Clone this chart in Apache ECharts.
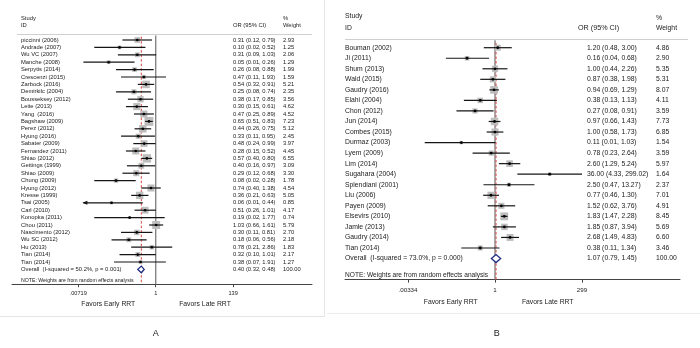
<!DOCTYPE html>
<html><head><meta charset="utf-8">
<script src="https://cdn.jsdelivr.net/npm/echarts@6/dist/echarts.min.js"></script>
<style>html,body{margin:0;padding:0;background:#fff}#c{width:700px;height:348px}</style>
</head><body><div id="c"></div>
<script>
// ---------- Panel A data ----------
const studiesA = ['piccinni (2006)','Andrade (2007)','Wu VC (2007)','Manche (2008)','Serpytis (2014)','Crescenzi (2015)','Zarbock (2016)','Demirkilc (2004)','Bousseksey (2012)','Leite (2013)','Yang  (2016)','Bagshaw (2009)','Perez (2012)','Hyung (2016)','Sabater (2009)','Fernandez (2011)','Shiao (2012)','Gettings (1999)','Shiao (2009)','Chung (2009)','Hyung (2012)','Kresse (1999)','Tsai (2005)','Carl (2010)','Konopka (2011)','Chou (2011)','Nascimento (2012)','Wu SC (2012)','Hu (2013)','Tian (2014)','Tian (2014)'];
const orA = [0.31,0.10,0.31,0.05,0.26,0.47,0.54,0.25,0.38,0.30,0.47,0.65,0.44,0.33,0.48,0.28,0.57,0.40,0.29,0.08,0.74,0.36,0.06,0.51,0.19,1.03,0.30,0.18,0.78,0.32,0.38];
const loA = [0.12,0.02,0.09,0.01,0.08,0.11,0.32,0.08,0.17,0.15,0.25,0.51,0.26,0.11,0.24,0.15,0.40,0.16,0.12,0.02,0.40,0.21,0.01,0.26,0.02,0.66,0.11,0.06,0.21,0.10,0.07];
const hiA = [0.79,0.52,1.03,0.26,0.88,1.93,0.91,0.74,0.85,0.61,0.89,0.83,0.75,0.95,0.99,0.52,0.80,0.97,0.68,0.28,1.38,0.63,0.44,1.01,1.77,1.61,0.81,0.56,2.86,1.01,1.91];
const weightA = [2.93,1.25,2.06,1.29,1.99,1.59,5.21,2.35,3.56,4.62,4.52,7.23,5.12,2.45,3.97,4.45,6.55,3.09,3.30,1.78,4.54,5.05,0.85,4.17,0.74,5.79,2.70,2.18,1.83,2.17,1.27];
const overallA = [0.40, 0.32, 0.48];
const overallLabelA = 'Overall  (I-squared = 50.2%, p = 0.001)';
const arrowLowA = ['Tsai (2005)'];
const tickValsA = [0.00719, 1, 139];
const tickLabelsA = ['.00719', '1', '139'];

// ---------- Panel B data ----------
const studiesB = ['Bouman (2002)','Ji (2011)','Shum (2013)','Wald (2015)','Gaudry (2016)','Elahi (2004)','Chon (2012)','Jun (2014)','Combes (2015)','Durmaz (2003)','Lyem (2009)','Lim (2014)','Sugahara (2004)','Splendiani (2001)','Liu (2006)','Payen (2009)','Elsevirs (2010)','Jamle (2013)','Gaudry (2014)','Tian (2014)'];
const orB = [1.20,0.16,1.00,0.87,0.94,0.38,0.27,0.97,1.00,0.11,0.78,2.60,36.00,2.50,0.77,1.52,1.83,1.85,2.68,0.38];
const loB = [0.48,0.04,0.44,0.38,0.69,0.13,0.08,0.66,0.58,0.01,0.23,1.29,4.33,0.47,0.46,0.62,1.47,0.87,1.49,0.11];
const hiB = [3.00,0.68,2.26,1.98,1.29,1.13,0.91,1.43,1.73,1.03,2.64,5.24,299.02,13.27,1.30,3.76,2.28,3.94,4.83,1.34];
const weightB = [4.86,2.90,5.35,5.31,8.07,4.11,3.59,7.73,6.85,1.54,3.59,5.97,1.64,2.37,7.01,4.91,8.45,5.69,6.60,3.46];
const overallB = [1.07, 0.79, 1.45];
const overallLabelB = 'Overall  (I-squared = 73.0%, p = 0.000)';
const arrowLowB = [];
const tickValsB = [0.00334, 1, 299];
const tickLabelsB = ['.00334', '1', '299'];

const noteText = 'NOTE: Weights are from random effects analysis';
const FONT = '"Liberation Sans", Arial, sans-serif';
const TXT = '#222';

const chart = echarts.init(document.getElementById('c'), null, {renderer: 'canvas'});

function fmt(v){ return v.toFixed(2); }

function panel(gi, studies, or, lo, hi, wt, ov, ovLabel, arrowLow, cfg) {
  const n = studies.length;
  const rowData = studies.map((s, i) => [Math.log(or[i]), i, Math.log(lo[i]), Math.log(hi[i]), wt[i], i]);
  const series = [];
  series.push({
    type: 'custom', xAxisIndex: gi, yAxisIndex: gi, silent: true, z: 1,
    data: [[0, cfg.lineTop, cfg.rowMax, 0], [Math.log(ov[0]), cfg.dashTop, cfg.rowMax, 1]],
    renderItem: (p, api) => {
      const a = api.coord([api.value(0), api.value(1)]);
      const b = api.coord([api.value(0), api.value(2)]);
      const dashed = api.value(3) === 1;
      return {type: 'line', shape: {x1: a[0], y1: a[1], x2: b[0], y2: b[1]},
        style: dashed ? {stroke: '#d9443f', lineWidth: 1, lineDash: [2.5, 2]} : {stroke: '#858585', lineWidth: 1.4}};
    }
  });
  series.push({
    type: 'custom', xAxisIndex: gi, yAxisIndex: gi, silent: true, z: 3,
    data: rowData,
    renderItem: (p, api) => {
      const row = api.value(1), idx = api.value(5);
      const c = api.coord([api.value(0), row]);
      const l = api.coord([api.value(2), row]);
      const h = api.coord([api.value(3), row]);
      const s = cfg.boxK * Math.sqrt(api.value(4));
      const ch = [
        {type: 'rect', shape: {x: c[0] - s / 2, y: c[1] - s / 2, width: s, height: s}, style: {fill: '#bdbdbd'}, z2: 1},
        {type: 'line', shape: {x1: l[0], y1: l[1], x2: h[0], y2: h[1]}, style: {stroke: '#151515', lineWidth: cfg.ciW}, z2: 2},
        {type: 'circle', shape: {cx: c[0], cy: c[1], r: cfg.dotR}, style: {fill: '#000'}, z2: 3},
        {type: 'text', x: cfg.nameX, y: c[1], style: {text: studies[idx], font: cfg.font, fill: TXT, align: 'left', verticalAlign: 'middle', textAlign: 'left', textVerticalAlign: 'middle'}},
        {type: 'text', x: cfg.orX, y: c[1], style: {text: fmt(or[idx]) + ' (' + fmt(lo[idx]) + ', ' + fmt(hi[idx]) + ')', font: cfg.font, fill: TXT, align: 'left', verticalAlign: 'middle', textAlign: 'left', textVerticalAlign: 'middle'}},
        {type: 'text', x: cfg.wX, y: c[1], style: {text: fmt(wt[idx]), font: cfg.font, fill: TXT, align: 'left', verticalAlign: 'middle', textAlign: 'left', textVerticalAlign: 'middle'}}
      ];
      if (arrowLow.indexOf(studies[idx]) >= 0) {
        ch.push({type: 'polygon', shape: {points: [[l[0] - 1, l[1]], [l[0] + 4, l[1] - 2], [l[0] + 4, l[1] + 2]]}, style: {fill: '#151515'}, z2: 3});
      }
      return {type: 'group', children: ch};
    }
  });
  series.push({
    type: 'custom', xAxisIndex: gi, yAxisIndex: gi, silent: true, z: 4,
    data: [[Math.log(ov[0]), n, Math.log(ov[1]), Math.log(ov[2])]],
    renderItem: (p, api) => {
      const row = api.value(1);
      const c = api.coord([api.value(0), row]);
      const l = api.coord([api.value(2), row]);
      const h = api.coord([api.value(3), row]);
      const hh = cfg.diaH;
      const noteY = api.coord([0, cfg.noteRow])[1];
      return {type: 'group', children: [
        {type: 'polygon', shape: {points: [[l[0], l[1]], [c[0], c[1] - hh], [h[0], h[1]], [c[0], c[1] + hh]]}, style: {fill: '#fff', stroke: '#1f2a80', lineWidth: 1.3}},
        {type: 'text', x: cfg.nameX, y: c[1], style: {text: ovLabel, font: cfg.font, fill: TXT, align: 'left', verticalAlign: 'middle', textAlign: 'left', textVerticalAlign: 'middle'}},
        {type: 'text', x: cfg.orX, y: c[1], style: {text: fmt(ov[0]) + ' (' + fmt(ov[1]) + ', ' + fmt(ov[2]) + ')', font: cfg.font, fill: TXT, align: 'left', verticalAlign: 'middle', textAlign: 'left', textVerticalAlign: 'middle'}},
        {type: 'text', x: cfg.wX, y: c[1], style: {text: '100.00', font: cfg.font, fill: TXT, align: 'left', verticalAlign: 'middle', textAlign: 'left', textVerticalAlign: 'middle'}},
        {type: 'text', x: cfg.nameX, y: noteY, style: {text: noteText, font: cfg.noteFont, fill: TXT, align: 'left', verticalAlign: 'middle', textAlign: 'left', textVerticalAlign: 'middle'}}
      ]};
    }
  });
  return series;
}

const cfgA = {nameX: 21, orX: 233, wX: 283, font: '5.8px ' + FONT, noteFont: '5.2px ' + FONT, boxK: 3.3, dotR: 1.3, ciW: 1.2, diaH: 3.3, lineTop: -0.6, dashTop: -0.45, rowMax: 33, noteRow: 32.55};
const cfgB = {nameX: 345, orX: 587, wX: 656, font: '6.8px ' + FONT, noteFont: '6.6px ' + FONT, boxK: 2.7, dotR: 1.4, ciW: 1.2, diaH: 4, lineTop: -0.7, dashTop: -0.45, rowMax: 22, noteRow: 21.55};

function xAxisCfg(gi, minV, maxV, tv, tl, fs, margin) {
  const vals = tv.map(v => Math.log(v));
  return {
    type: 'value', gridIndex: gi, min: minV, max: maxV, position: 'bottom',
    splitLine: {show: false},
    axisLine: {show: true, onZero: false, lineStyle: {color: '#444', width: 1}},
    axisTick: {show: true, length: 3, customValues: vals, lineStyle: {color: '#444'}},
    axisLabel: {show: true, customValues: vals, margin: margin, fontSize: fs, color: TXT, fontFamily: FONT,
      formatter: (v) => { let k = 0, d = Infinity; vals.forEach((x, i) => { if (Math.abs(x - v) < d) { d = Math.abs(x - v); k = i; } }); return tl[k]; }}
  };
}

function hdr(x, y, t, fs, align) {
  return {type: 'text', x: x, y: y, style: {text: t, font: fs + 'px ' + FONT, fill: TXT, align: align || 'left', verticalAlign: 'middle', textAlign: align || 'left', textVerticalAlign: 'middle'}};
}

const option = {
  backgroundColor: '#fff',
  animation: false,
  grid: [
    {left: 12, width: 300, top: 32.6, height: 251.6},
    {left: 345, width: 335, top: 37.16, height: 242.44}
  ],
  xAxis: [
    xAxisCfg(0, -9.153, 9.955, tickValsA, tickLabelsA, 5.6, 6.5),
    xAxisCfg(1, -9.83, 12.123, tickValsB, tickLabelsB, 6.2, 7.5)
  ],
  yAxis: [
    {type: 'value', gridIndex: 0, inverse: true, min: -1, max: 33, show: false},
    {type: 'value', gridIndex: 1, inverse: true, min: -1, max: 22, show: false}
  ],
  series: [].concat(
    panel(0, studiesA, orA, loA, hiA, weightA, overallA, overallLabelA, arrowLowA, cfgA),
    panel(1, studiesB, orB, loB, hiB, weightB, overallB, overallLabelB, arrowLowB, cfgB)
  ),
  graphic: [
    {type: 'line', shape: {x1: 324.5, y1: 0, x2: 324.5, y2: 317}, style: {stroke: '#e6e6e6', lineWidth: 1}},
    {type: 'line', shape: {x1: 0, y1: 316.5, x2: 324.5, y2: 316.5}, style: {stroke: '#e6e6e6', lineWidth: 1}},
    {type: 'line', shape: {x1: 327, y1: 313.5, x2: 700, y2: 313.5}, style: {stroke: '#ececec', lineWidth: 1}},
    {type: 'line', shape: {x1: 17, y1: 34.5, x2: 312, y2: 34.5}, style: {stroke: '#cfcfcf', lineWidth: 1}},
    {type: 'line', shape: {x1: 345, y1: 39.5, x2: 688, y2: 39.5}, style: {stroke: '#cfcfcf', lineWidth: 1}},
    hdr(21, 18.3, 'Study', 5.8), hdr(21, 25.3, 'ID', 5.8),
    hdr(233, 25.7, 'OR (95% CI)', 5.8),
    hdr(283, 18.3, '%', 5.8), hdr(283, 25.7, 'Weight', 5.8),
    hdr(345, 16.5, 'Study', 6.8), hdr(345, 28.5, 'ID', 6.8),
    hdr(578, 27.7, 'OR (95% CI)', 7.2),
    hdr(656, 18.3, '%', 6.8), hdr(656, 27.7, 'Weight', 6.8),
    hdr(108.3, 304, 'Favors Early RRT', 6.8, 'center'),
    hdr(205, 304, 'Favors Late RRT', 6.8, 'center'),
    hdr(450.7, 301.7, 'Favors Early RRT', 6.8, 'center'),
    hdr(547.7, 301.7, 'Favors Late RRT', 6.8, 'center'),
    hdr(155.7, 334, 'A', 9, 'center'),
    hdr(496.7, 333.3, 'B', 9, 'center')
  ]
};
chart.setOption(option);
</script>
</body></html>
